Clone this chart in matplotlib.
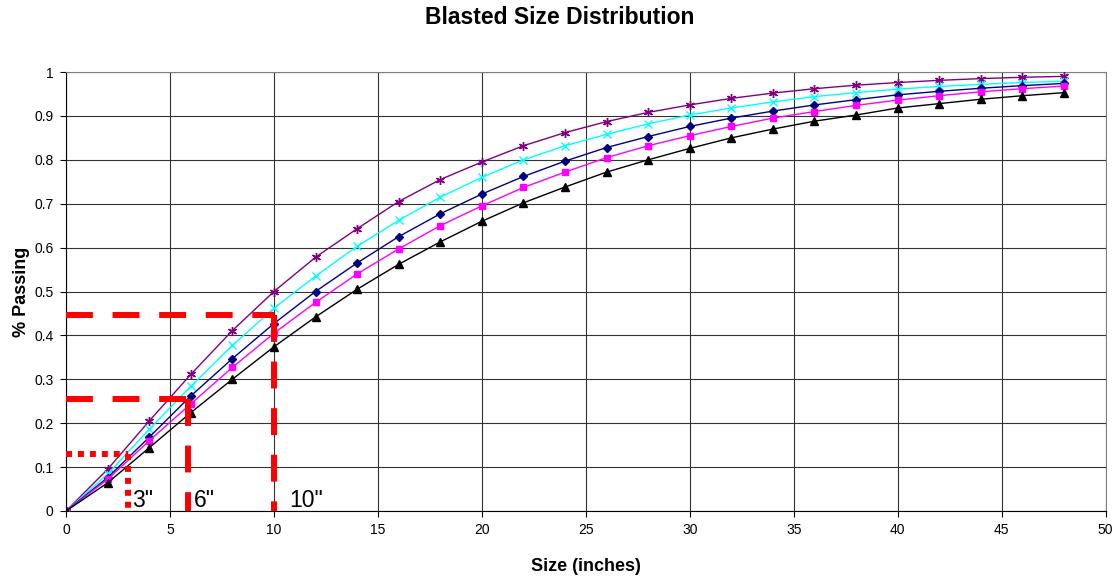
import numpy as np
import matplotlib
matplotlib.use('Agg')
import matplotlib.pyplot as plt

plt.rcParams['font.family'] = ['Liberation Sans', 'DejaVu Sans']

# size in inches
size_in = [0, 2, 4, 6, 8, 10, 12, 14, 16, 18, 20, 22, 24, 26, 28, 30, 32, 34, 36, 38, 40, 42, 44, 46, 48]

# fraction passing, one list per blast curve
purple = [0, 0.095, 0.205, 0.311, 0.411, 0.500, 0.578, 0.643, 0.705, 0.755, 0.795, 0.832, 0.862,
          0.887, 0.908, 0.925, 0.940, 0.952, 0.962, 0.970, 0.976, 0.981, 0.985, 0.988, 0.990]
cyan = [0, 0.084, 0.186, 0.284, 0.377, 0.462, 0.535, 0.603, 0.662, 0.715, 0.760, 0.800, 0.832,
        0.858, 0.882, 0.902, 0.918, 0.932, 0.944, 0.953, 0.961, 0.967, 0.972, 0.976, 0.979]
navy = [0, 0.076, 0.168, 0.262, 0.347, 0.427, 0.500, 0.565, 0.625, 0.677, 0.722, 0.762, 0.797,
        0.828, 0.853, 0.876, 0.895, 0.911, 0.925, 0.937, 0.948, 0.956, 0.963, 0.969, 0.974]
magenta = [0, 0.072, 0.160, 0.244, 0.327, 0.405, 0.475, 0.540, 0.597, 0.650, 0.695, 0.737, 0.772,
           0.805, 0.832, 0.855, 0.876, 0.895, 0.910, 0.924, 0.936, 0.946, 0.955, 0.962, 0.968]
black = [0, 0.064, 0.144, 0.224, 0.300, 0.374, 0.442, 0.505, 0.562, 0.613, 0.660, 0.702, 0.738,
         0.772, 0.800, 0.826, 0.850, 0.870, 0.888, 0.902, 0.918, 0.928, 0.938, 0.946, 0.953]

# reading lines: (size, passing)
reads = [(3, 0.130), (5.85, 0.254), (10, 0.446)]
read_labels = ['3"', '6"', '10"']
label_x = [3.2, 6.15, 10.75]

fig = plt.figure(figsize=(11.19, 5.77), dpi=100)
ax = fig.add_axes([0.059, 0.1144, 0.929, 0.7608])

series = [
    (purple, '#800080', (6, 2, 0), 6.5),
    (cyan, '#00FFFF', 'x', 5.5),
    (navy, '#000080', 'D', 4.5),
    (magenta, '#FF00FF', 's', 5),
    (black, 'black', '^', 5.5),
]
for vals, col, mk, ms in series:
    ax.plot(size_in, vals, color=col, lw=1.0, marker=mk, markersize=ms,
            markeredgewidth=1.0, zorder=3)

# red read-off lines
for i, (sx, py) in enumerate(reads):
    if i == 0:
        dash = (1.0, 1.0)
    else:
        dash = (4.5, 3.3)
    ax.plot([0, sx], [py, py], color='red', lw=4.3, dashes=dash, zorder=4)
    ax.plot([sx, sx], [py, 0], color='red', lw=4.3, dashes=dash, zorder=4)
    ax.text(label_x[i], 0.008, read_labels[i], fontsize=16.5, ha='left', va='baseline', zorder=5)

ax.set_xlim(0, 50)
ax.set_ylim(0, 1)
ax.set_xticks(np.arange(0, 51, 5))
ax.set_yticks(np.arange(0, 1.01, 0.1))
ax.set_yticklabels(['0', '0.1', '0.2', '0.3', '0.4', '0.5', '0.6', '0.7', '0.8', '0.9', '1'])
ax.tick_params(direction='out', length=4, width=0.8, labelsize=10, pad=5)
ax.grid(True, color='#333333', lw=0.8)
ax.set_axisbelow(True)
for s in ['top', 'right']:
    ax.spines[s].set_color('#808080')

fig.text(0.5, 1 - 17 / 577, 'Blasted Size Distribution', fontsize=16.5, fontweight='bold',
         ha='center', va='center')
ax.set_xlabel('Size (inches)', fontsize=13, fontweight='bold', labelpad=15)
ax.set_ylabel('% Passing', fontsize=13, fontweight='bold', labelpad=3)

fig.savefig('out.png', dpi=100)
